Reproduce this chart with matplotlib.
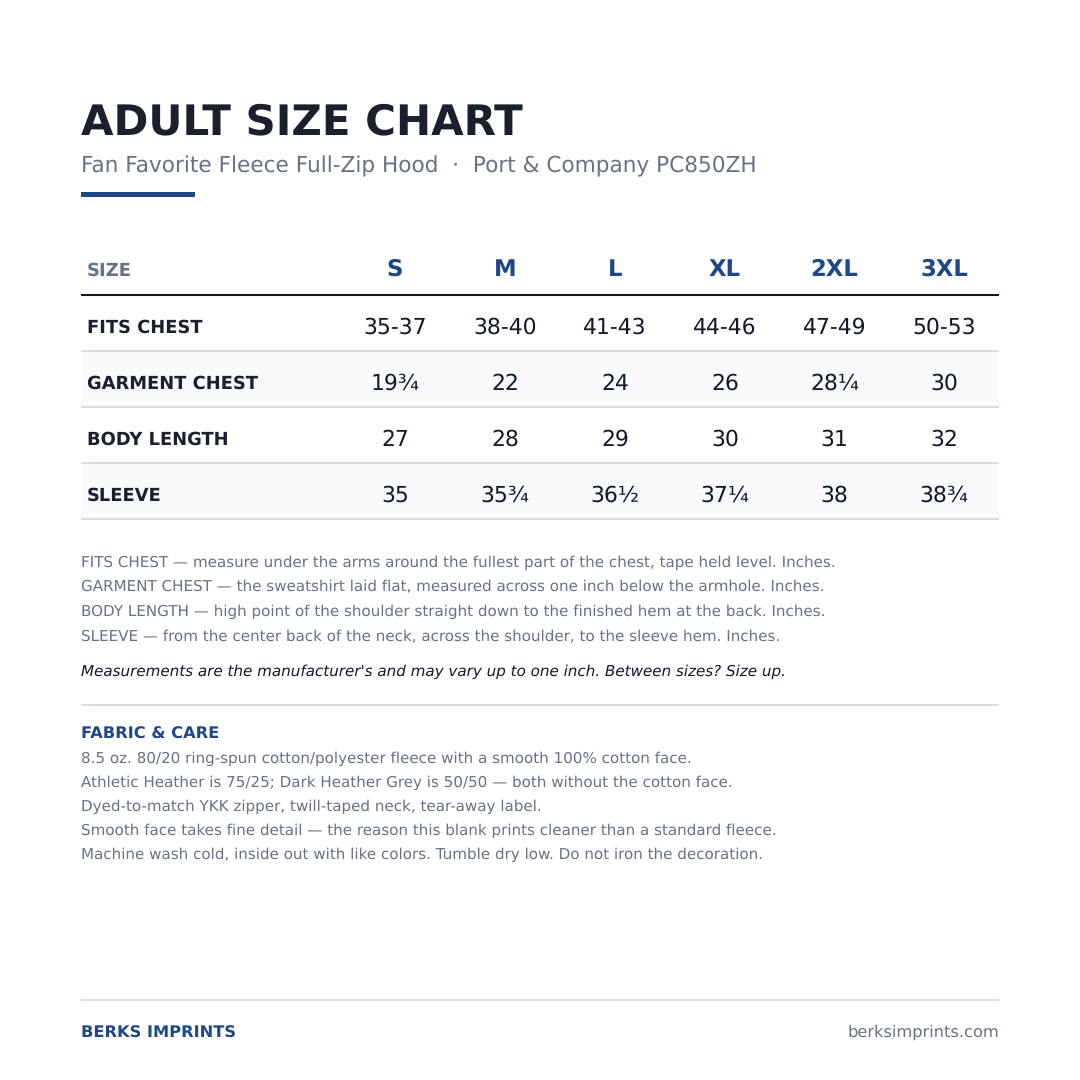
#!/usr/bin/env python3
import matplotlib
matplotlib.use('Agg')
import matplotlib.pyplot as plt
from matplotlib.patches import Rectangle

plt.rcParams['text.hinting'] = 'no_hinting'
plt.rcParams['text.hinting_factor'] = 8

sizes = ['S', 'M', 'L', 'XL', '2XL', '3XL']
row_names = ['FITS CHEST', 'GARMENT CHEST', 'BODY LENGTH', 'SLEEVE']
fits_chest = ['35-37', '38-40', '41-43', '44-46', '47-49', '50-53']
garment_chest = ['19¾', '22', '24', '26', '28¼', '30']
body_length = ['27', '28', '29', '30', '31', '32']
sleeve = ['35', '35¾', '36½', '37¼', '38', '38¾']
rows = [fits_chest, garment_chest, body_length, sleeve]

notes = [
    'FITS CHEST — measure under the arms around the fullest part of the chest, tape held level. Inches.',
    'GARMENT CHEST — the sweatshirt laid flat, measured across one inch below the armhole. Inches.',
    'BODY LENGTH — high point of the shoulder straight down to the finished hem at the back. Inches.',
    'SLEEVE — from the center back of the neck, across the shoulder, to the sleeve hem. Inches.',
]
care = [
    '8.5 oz. 80/20 ring-spun cotton/polyester fleece with a smooth 100% cotton face.',
    'Athletic Heather is 75/25; Dark Heather Grey is 50/50 — both without the cotton face.',
    'Dyed-to-match YKK zipper, twill-taped neck, tear-away label.',
    'Smooth face takes fine detail — the reason this blank prints cleaner than a standard fleece.',
    'Machine wash cold, inside out with like colors. Tumble dry low. Do not iron the decoration.',
]

NAVY = '#1e478a'
INK = '#1a202c'
DARK = '#111827'
GREY = '#677282'
RULE = '#d9dde3'
BAND = '#f9fafc'
LEFT, RIGHT = 81, 999

fig = plt.figure(figsize=(10.8, 10.8), dpi=100, facecolor='white')
ax = fig.add_axes([0, 0, 1, 1])
ax.set_xlim(0, 1080)
ax.set_ylim(1080, 0)
ax.axis('off')


def rule(y, color=RULE, lw=1.5):
    ax.plot([LEFT, RIGHT], [y, y], color=color, lw=lw, solid_capstyle='butt')


def put(x, y, s, size, color, weight='normal', ha='left', style='normal'):
    ax.text(x, y, s, fontsize=size, color=color, fontweight=weight, ha=ha,
            va='baseline', fontstyle=style, family='DejaVu Sans')


# header block
put(LEFT, 134, 'ADULT SIZE CHART', 30.25, INK, 'bold')
put(LEFT, 172.5, 'Fan Favorite Fleece Full-Zip Hood  ·  Port & Company PC850ZH', 15.58, GREY)
ax.add_patch(Rectangle((LEFT, 191.5), 114, 5, color=NAVY, lw=0))

# table
col_x = [395, 505, 615, 725, 834.5, 944]
row_top = 295
row_h = 56

put(87, 275.5, 'SIZE', 13, GREY, 'bold')
for x, s in zip(col_x, sizes):
    # agg snaps S and 3 a pixel low because of their overshoot
    y = 275.4 if s in ('S', '3XL') else 276.4
    put(x, y, s, 16.4, NAVY, 'bold', ha='center')
rule(row_top, color=DARK, lw=1.5)

for i, (name, vals) in enumerate(zip(row_names, rows)):
    top = row_top + i * row_h
    if i % 2 == 1:
        ax.add_patch(Rectangle((LEFT, top), RIGHT - LEFT, row_h, color=BAND, lw=0))
    rule(top + row_h)
    put(87, top + 37.5, name, 12.9, INK, 'bold')
    for x, v in zip(col_x, vals):
        put(x, top + 38.5, v, 15.75, DARK, ha='center')

# measuring notes
for i, line in enumerate(notes):
    put(LEFT, 567 + i * 24.67, line, 10.89, GREY)
put(LEFT, 676, "Measurements are the manufacturer's and may vary up to one inch. Between sizes? Size up.",
    10.89, DARK, style='italic')
rule(705)

# fabric and care
put(LEFT, 739, 'FABRIC & CARE', 11.67, NAVY, 'bold')
for i, line in enumerate(care):
    put(LEFT, 763 + i * 24, line, 10.89, GREY)

# footer
rule(1000)
put(LEFT, 1038, 'BERKS IMPRINTS', 11.69, NAVY, 'bold')
put(RIGHT, 1037, 'berksimprints.com', 11.67, GREY, ha='right')

fig.savefig('out.png', dpi=100)
